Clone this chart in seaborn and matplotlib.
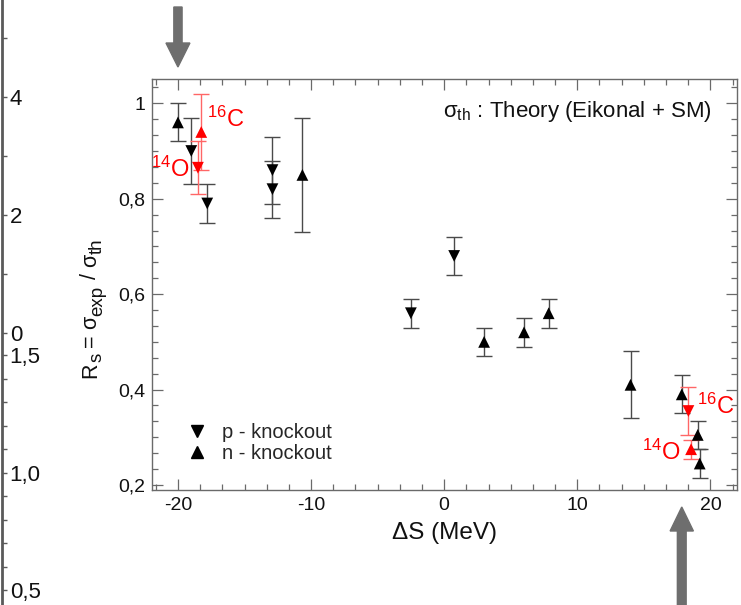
import matplotlib
matplotlib.use("Agg")
import matplotlib.pyplot as plt
import matplotlib.transforms as mtransforms
from matplotlib.patches import FancyArrow
from matplotlib.lines import Line2D
from matplotlib.ticker import MultipleLocator, FixedLocator, FixedFormatter
import numpy as np
import pandas as pd
import seaborn as sns

# ---- data -------------------------------------------------------------
# proton knockout (stable / reference nuclei)
p_dS = [-19.0, -17.8, -12.9, -12.9, -2.5, 0.75]
p_Rs = [0.90, 0.79, 0.86, 0.82, 0.56, 0.68]
p_err = [0.07, 0.04, 0.07, 0.06, 0.03, 0.04]

# neutron knockout (stable / reference nuclei)
n_dS = [-20.0, -10.65, 3.0, 6.0, 7.85, 14.0, 17.85, 19.05, 19.2]
n_Rs = [0.96, 0.85, 0.50, 0.52, 0.56, 0.41, 0.39, 0.305, 0.245]
n_err = [0.04, 0.12, 0.03, 0.03, 0.03, 0.07, 0.04, 0.03, 0.03]

# exotic nuclei: 14O and 16C
ex_label = ["14O", "16C", "16C", "14O"]
ex_channel = ["p", "n", "p", "n"]
ex_dS = [-18.5, -18.25, 18.35, 18.55]
ex_Rs = [0.865, 0.94, 0.355, 0.275]
ex_err = [0.055, 0.08, 0.05, 0.02]

x_ticks = [-20, -10, 0, 10, 20]
y_ticks = [0.2, 0.4, 0.6, 0.8, 1.0]
y_ticklabels = ["0,2", "0,4", "0,6", "0,8", "1"]

# fragment of a neighbouring panel's axis on the far left
strip_upper_ticks = [0, 1, 2, 3, 4, 5]
strip_upper_labels = ["0", "", "2", "", "4", ""]
strip_lower_ticks = [0.5, 0.6, 0.7, 0.8, 0.9, 1.0, 1.1, 1.2, 1.3, 1.4, 1.5]
strip_lower_labels = ["0,5", "", "", "", "", "1,0", "", "", "", "", "1,5"]

# ---- frames -----------------------------------------------------------
ref = pd.DataFrame({"dS": p_dS + n_dS, "Rs": p_Rs + n_Rs, "err": p_err + n_err,
                    "channel": ["p"] * len(p_dS) + ["n"] * len(n_dS)})
exo = pd.DataFrame({"dS": ex_dS, "Rs": ex_Rs, "err": ex_err,
                    "channel": ex_channel, "nucleus": ex_label})

sns.set_theme(style="ticks")
plt.rcParams["font.family"] = ["Liberation Sans", "DejaVu Sans"]
plt.rcParams["mathtext.fontset"] = "custom"
plt.rcParams["mathtext.rm"] = "Liberation Sans"
plt.rcParams["mathtext.it"] = "Liberation Sans:italic"
plt.rcParams["mathtext.bf"] = "Liberation Sans:bold"
plt.rcParams["axes.unicode_minus"] = False

W, H = 741, 605
fig = plt.figure(figsize=(W / 100, H / 100), dpi=100)
fig.patch.set_facecolor("white")

ax_l, ax_r, ax_t, ax_b = 152, 737, 79, 490
ax = fig.add_axes([ax_l / W, 1 - ax_b / H, (ax_r - ax_l) / W, (ax_b - ax_t) / H])
ax.set_facecolor("white")

frame_col = "#6a6a6a"
markers = {"p": "v", "n": "^"}

# error bars
for ch, sub in ref.groupby("channel"):
    ax.errorbar(sub["dS"], sub["Rs"], yerr=sub["err"], fmt="none",
                ecolor="#4a4a4a", elinewidth=1.0, capsize=5.5, capthick=1.0, zorder=2)
ax.errorbar(exo["dS"], exo["Rs"], yerr=exo["err"], fmt="none",
            ecolor="#ff6666", elinewidth=1.0, capsize=5.5, capthick=1.0, zorder=3)

# markers
sns.scatterplot(data=ref, x="dS", y="Rs", style="channel", markers=markers,
                color="black", s=72, edgecolor="black", linewidth=0,
                legend=False, ax=ax, zorder=4)
sns.scatterplot(data=exo, x="dS", y="Rs", style="channel", markers=markers,
                color="#ff0000", s=72, edgecolor="#ff0000", linewidth=0,
                legend=False, ax=ax, zorder=5)

# nucleus labels (left edge of the mass number, baseline of the symbol)
label_pos = {(-18.5, "14O"): (-22.05, 0.845),
             (-18.25, "16C"): (-17.8, 0.951),
             (18.35, "16C"): (19.0, 0.348),
             (18.55, "14O"): (14.9, 0.253)}
for xx, lab in zip(ex_dS, ex_label):
    tx, ty = label_pos[(xx, lab)]
    txt = r"$^{%s}$%s" % (lab[:2], lab[2:])
    ax.text(tx, ty, txt, color="#ff0000", fontsize=17, ha="left",
            va="baseline", zorder=6, clip_on=False)

ax.set_xlim(-21.95, 22.0)
ax.set_ylim(0.1895, 1.051)

ax.xaxis.set_major_locator(FixedLocator(x_ticks))
ax.xaxis.set_minor_locator(MultipleLocator(10 / 6))
ax.yaxis.set_major_locator(FixedLocator(y_ticks))
ax.yaxis.set_major_formatter(FixedFormatter(y_ticklabels))
ax.yaxis.set_minor_locator(MultipleLocator(0.2 / 6))

ax.tick_params(which="both", direction="in", top=True, right=True,
               color=frame_col, width=0.9, labelsize=14, labelcolor="#111111")
ax.tick_params(which="major", length=8, pad=5)
ax.tick_params(which="minor", length=4.3)
for sp in ax.spines.values():
    sp.set_visible(True)
    sp.set_color(frame_col)
    sp.set_linewidth(1.0)

ax.set_xlabel("ΔS (MeV)", fontsize=17.5, color="#111111", labelpad=6)
ax.set_ylabel("")

ax.text(20.1, 0.982, r"σ$_{\rm th}$ : Theory (Eikonal + SM)", fontsize=16,
        ha="right", va="center", color="#111111")

handles = [Line2D([], [], ls="none", marker="v", color="black", ms=8.5),
           Line2D([], [], ls="none", marker="^", color="black", ms=8.5)]
ax.legend(handles, ["p - knockout", "n - knockout"], loc="upper left",
          bbox_to_anchor=(0.060, 0.162), frameon=False, fontsize=14.5,
          handlelength=1.0, handletextpad=0.75, labelspacing=0.1,
          borderpad=0, borderaxespad=0)

# ---- y label, set piece by piece so the subscripts stay large ----------
# (text, fontsize, baseline shift in px to the right, gap before in px)
ylabel_parts = [("R", 15.5, 0, 0), ("s", 13.5, 6, 0), ("=", 15.5, 0, 6),
                ("σ", 15.5, 0, 6), ("exp", 13.5, 6, 0), ("/", 15.5, 0, 6),
                ("σ", 15.5, 0, 6), ("th", 13.5, 6, 0)]
renderer = fig.canvas.get_renderer()
to_px = mtransforms.IdentityTransform()
base_x = 96.0
cursor = H - 378.0   # display coords: bottom of the label
for text, fs, shift, gap in ylabel_parts:
    cursor += gap
    t = fig.text(base_x + shift, cursor, text, fontsize=fs, rotation=90,
                 rotation_mode="anchor", ha="left", va="baseline",
                 color="#111111", transform=to_px)
    cursor += t.get_window_extent(renderer).height

# ---- neighbouring axis fragment -------------------------------------
strip_x = 2
def strip_axes(ylim):
    a = fig.add_axes([-0.02, 0, 0.02 + strip_x / W, 1])
    a.patch.set_visible(False)
    for k, sp in a.spines.items():
        sp.set_visible(k == "right")
    a.spines["right"].set_color("#5a5a5a")
    a.spines["right"].set_linewidth(2.0)
    a.set_xticks([])
    a.set_ylim(*ylim)
    a.yaxis.tick_right()
    a.tick_params(axis="y", direction="out", length=3.5, width=1.0,
                  color="#5a5a5a", labelsize=16, labelcolor="#111111", pad=2)
    return a

a_up = strip_axes(((333 - H) / 59.0, 333 / 59.0))
a_up.yaxis.set_major_locator(FixedLocator(strip_upper_ticks))
a_up.yaxis.set_major_formatter(FixedFormatter(strip_upper_labels))

a_lo = strip_axes((1.0 + (472.7 - H) / 235.0, 1.0 + 472.7 / 235.0))
a_lo.yaxis.set_major_locator(FixedLocator(strip_lower_ticks))
a_lo.yaxis.set_major_formatter(FixedFormatter(strip_lower_labels))
a_lo.spines["right"].set_visible(False)

# ---- pointer arrows ---------------------------------------------------
blend = mtransforms.blended_transform_factory(ax.transData, fig.transFigure)
arrow_col = "#6e6e6e"
fig.patches.append(FancyArrow(-20.0, 1 - 7 / H, 0, -(67 - 7) / H, width=0.62,
                              head_width=1.8, head_length=24 / H,
                              length_includes_head=True, color=arrow_col,
                              transform=blend, figure=fig))
fig.patches.append(FancyArrow(17.85, 0.0, 0, (H - 507) / H, width=0.66,
                              head_width=1.75, head_length=24 / H,
                              length_includes_head=True, color=arrow_col,
                              transform=blend, figure=fig))

fig.savefig("out.png", dpi=100, facecolor="white")
